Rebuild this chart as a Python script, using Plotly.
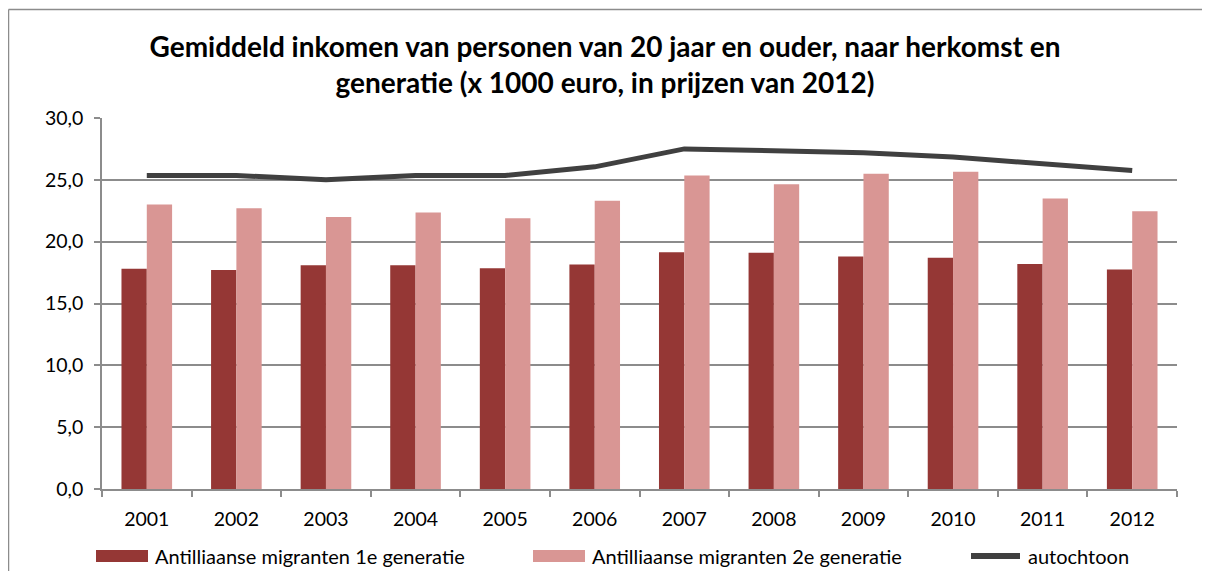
import plotly.graph_objects as go

years = ["2001", "2002", "2003", "2004", "2005", "2006", "2007", "2008", "2009", "2010", "2011", "2012"]
gen1 = [17.8, 17.7, 18.1, 18.1, 17.85, 18.15, 19.15, 19.1, 18.8, 18.7, 18.2, 17.75]
gen2 = [23.0, 22.7, 22.0, 22.35, 21.9, 23.3, 25.35, 24.65, 25.5, 25.65, 23.5, 22.45]
autochtoon = [25.35, 25.35, 25.0, 25.35, 25.35, 26.05, 27.5, 27.3, 27.2, 26.85, 26.25, 25.75]

names = ["Antilliaanse migranten 1e generatie", "Antilliaanse migranten 2e generatie", "autochtoon"]
colors = ["#953735", "#D99694", "#404040"]
title_text = ("Gemiddeld inkomen van personen van 20 jaar en ouder, naar herkomst en<br>"
              "generatie (x 1000 euro, in prijzen van 2012)")

# page has an 8px body margin, so the figure is placed at (8, 8)
OFF = 8
W, H = 1210 - 2 * OFF, 579 - 2 * OFF
ML, MT = 102 - OFF, 118 - OFF
MR = W - (1177 - OFF)
MB = H - (489 - OFF)
FONT = "Lato"
GRID = "#8c8c8c"
pw = W - ML - MR
ph = H - MT - MB


def px_x(x):
    return (x - OFF - ML) / pw


def px_y(y):
    return (MT + ph - (y - OFF)) / ph


fig = go.Figure()
fig.add_bar(x=years, y=gen1, name=names[0], marker=dict(color=colors[0], line=dict(width=0)))
fig.add_bar(x=years, y=gen2, name=names[1], marker=dict(color=colors[1], line=dict(width=0)))
fig.add_scatter(x=years, y=autochtoon, name=names[2], mode="lines",
                line=dict(color=colors[2], width=5))

fig.update_layout(
    width=W, height=H,
    margin=dict(l=ML, r=MR, t=MT, b=MB, pad=0),
    paper_bgcolor="white", plot_bgcolor="white",
    separators=",.",
    barmode="group", bargap=0.435, bargroupgap=0,
    font=dict(family=FONT, size=19.5, color="#000000"),
    title=dict(text=title_text, x=0.5, xanchor="center", xref="container",
               y=1 - 48.5 / H, yanchor="middle", yref="container",
               font=dict(family=FONT, size=28, color="#000000", weight="bold")),
    showlegend=False,
    xaxis=dict(type="category", showline=True, linecolor=GRID, linewidth=1.5,
               ticks="outside", tickson="boundaries", ticklen=6, tickcolor=GRID,
               tickwidth=1.5, showgrid=False, ticklabelstandoff=12, automargin=False,
               tickfont=dict(family=FONT, size=19.5, color="#000000")),
    yaxis=dict(range=[0, 30], dtick=5, tickformat=".1f", showline=True,
               linecolor=GRID, linewidth=1.5, ticks="outside", ticklen=6,
               tickcolor=GRID, tickwidth=1.5, showgrid=True, gridcolor=GRID,
               gridwidth=1.5, zeroline=False, ticklabelstandoff=7, automargin=False,
               tickfont=dict(family=FONT, size=19.5, color="#000000")),
)

# outer chart border: only the top and left edges are inside the view
fig.add_shape(type="line", xref="paper", yref="paper",
              x0=px_x(8.5), x1=px_x(1300), y0=px_y(9.5), y1=px_y(9.5),
              line=dict(color=GRID, width=1.5), layer="below")
fig.add_shape(type="line", xref="paper", yref="paper",
              x0=px_x(8.5), x1=px_x(8.5), y0=px_y(9.5), y1=px_y(700),
              line=dict(color=GRID, width=1.5), layer="below")

# custom legend (swatches + labels)
leg_y = 556
swatches = [(96, 148), (533, 585)]
text_x = [153, 590, 1026]
for i, (a, b) in enumerate(swatches):
    fig.add_shape(type="rect", xref="paper", yref="paper",
                  x0=px_x(a), x1=px_x(b), y0=px_y(leg_y + 6), y1=px_y(leg_y - 6),
                  line=dict(width=0), fillcolor=colors[i])
fig.add_shape(type="line", xref="paper", yref="paper",
              x0=px_x(971), x1=px_x(1020), y0=px_y(leg_y), y1=px_y(leg_y),
              line=dict(color=colors[2], width=6))
for i, name in enumerate(names):
    fig.add_annotation(text=name, xref="paper", yref="paper",
                       x=px_x(text_x[i]), y=px_y(leg_y), xanchor="left", yanchor="middle",
                       showarrow=False, font=dict(family=FONT, size=20, color="#000000"))

fig.write_html("out.html")
